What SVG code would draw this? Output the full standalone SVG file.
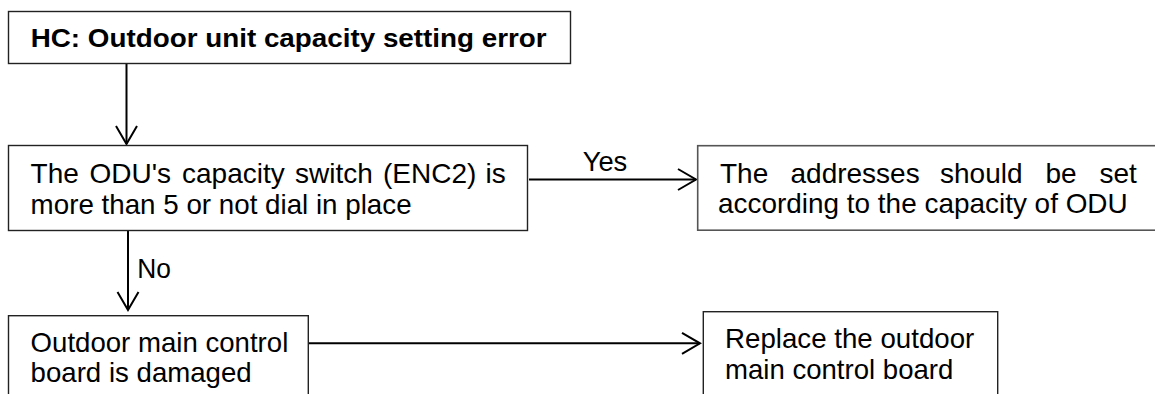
<svg xmlns="http://www.w3.org/2000/svg" width="1155" height="394" viewBox="0 0 1155 394">
<style>
.box{fill:#fff;stroke:#222;stroke-width:1.4}
.box.gray{stroke:#555;stroke-width:1.6}
.t{font-family:"Liberation Sans",Arial,sans-serif;font-size:28px;fill:#000}
.title{font-family:"Liberation Sans",Arial,sans-serif;font-size:26px;font-weight:bold;fill:#000}
.conn{stroke:#000;stroke-width:2;fill:none}
</style>
<defs>
<marker id="arr" markerUnits="userSpaceOnUse" viewBox="-21 -13 23 26" refX="0" refY="0" markerWidth="23" markerHeight="26" orient="auto">
<path d="M-18,-10.5 L0,0 L-18,10.5" fill="none" stroke="#000" stroke-width="2"/>
</marker>
</defs>
<rect width="1155" height="394" fill="#fff"/>
<g id="connectors">
<line class="conn" x1="126.5" y1="63.5" x2="126.5" y2="144" marker-end="url(#arr)"/>
<line class="conn" x1="529" y1="179.5" x2="696" y2="179.5" marker-end="url(#arr)"/>
<text class="t" x="582.7" y="170.7" textLength="44.6" lengthAdjust="spacingAndGlyphs">Yes</text>
<line class="conn" x1="128" y1="231" x2="128" y2="310" marker-end="url(#arr)"/>
<text class="t" x="137.3" y="278.3" textLength="33.7" lengthAdjust="spacingAndGlyphs">No</text>
<line class="conn" x1="309" y1="343.3" x2="700" y2="343.3" marker-end="url(#arr)"/>
</g>
<g id="node-title">
<rect class="box" x="8.5" y="11.5" width="562" height="52"/>
<text class="title" x="30.7" y="47" textLength="516" lengthAdjust="spacingAndGlyphs">HC: Outdoor unit capacity setting error</text>
</g>
<g id="node-check">
<rect class="box" x="8.5" y="145.5" width="519" height="85"/>
<text class="t" y="182.5"><tspan x="30.6">The</tspan><tspan x="89.5">ODU's</tspan><tspan x="182">capacity</tspan><tspan x="295">switch</tspan><tspan x="383">(ENC2)</tspan><tspan x="485.5">is</tspan></text>
<text class="t" x="30.6" y="214" textLength="381" lengthAdjust="spacingAndGlyphs">more than 5 or not dial in place</text>
</g>
<g id="node-addresses">
<rect class="box gray" x="697.7" y="145.7" width="470" height="84.5"/>
<text class="t" y="182.5"><tspan x="720">The</tspan><tspan x="790.5">addresses</tspan><tspan x="940">should</tspan><tspan x="1045.5">be</tspan><tspan x="1099.5">set</tspan></text>
<text class="t" x="718" y="213" textLength="409.7" lengthAdjust="spacingAndGlyphs">according to the capacity of ODU</text>
</g>
<g id="node-damaged">
<rect class="box" x="8.5" y="315.7" width="299.8" height="90"/>
<text class="t" x="30.6" y="352" textLength="257.7" lengthAdjust="spacingAndGlyphs">Outdoor main control</text>
<text class="t" x="30.6" y="382" textLength="221.1" lengthAdjust="spacingAndGlyphs">board is damaged</text>
</g>
<g id="node-replace">
<rect class="box" x="703.3" y="311.7" width="294.4" height="95"/>
<text class="t" x="725" y="348" textLength="249.3" lengthAdjust="spacingAndGlyphs">Replace the outdoor</text>
<text class="t" x="725" y="379" textLength="228.3" lengthAdjust="spacingAndGlyphs">main control board</text>
</g>
</svg>
